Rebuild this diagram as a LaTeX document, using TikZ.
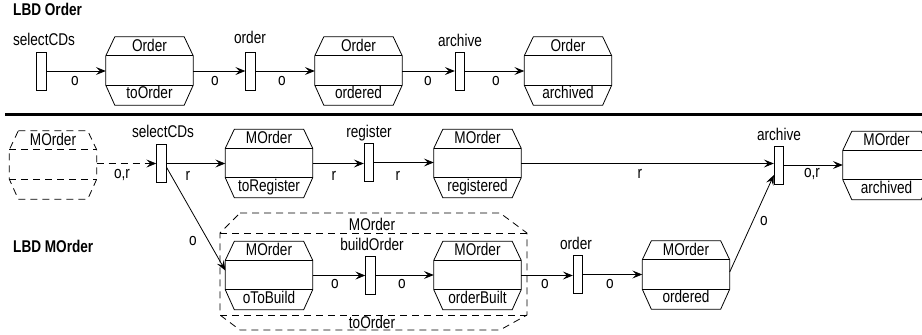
\documentclass[tikz,border=0pt]{standalone}
\usepackage{fontspec}
\setmainfont{Liberation Sans}[FakeStretch=0.8]
\usetikzlibrary{arrows.meta,calc}
\tikzset{
  sbox/.style={minimum width=87pt, minimum height=68pt, inner sep=0pt},
  barbox/.style={draw, fill=white, line width=0.8pt, minimum width=9.5pt, minimum height=38pt, inner sep=0pt},
  txt/.style={inner sep=0pt, anchor=base, font=\fontsize{17pt}{19pt}\selectfont},
  hdr/.style={inner sep=0pt, anchor=base west, font=\fontsize{17pt}{19pt}\selectfont\bfseries},
  conn/.style={line width=0.8pt, -{Stealth[length=10pt,width=8pt,inset=4pt]}},
  dsh/.style={dash pattern=on 7pt off 5pt},
}
\newcommand\mkstate[5][]{%
  \node[sbox] (#2) at (#3) {};
  \draw[line width=0.8pt,#1] ($(#2.north west)+(9pt,0)$) -- ($(#2.north east)+(-9pt,0)$) -- ($(#2.north east)+(0,-19pt)$) -- ($(#2.south east)+(0,20pt)$) -- ($(#2.south east)+(-9pt,0)$) -- ($(#2.south west)+(9pt,0)$) -- ($(#2.south west)+(0,20pt)$) -- ($(#2.north west)+(0,-19pt)$) -- cycle;
  \draw[line width=0.8pt,#1] ($(#2.north west)+(0,-19pt)$) -- ($(#2.north east)+(0,-19pt)$);
  \draw[line width=0.8pt,#1] ($(#2.south west)+(0,20pt)$) -- ($(#2.south east)+(0,20pt)$);
  \node[txt] (#2-t) at ($(#2.north)+(0,-14.5pt)$) {#4};
  \node[txt] (#2-b) at ($(#2.south)+(0,6.5pt)$) {#5};
}
\begin{document}
\begin{tikzpicture}[x=1pt,y=-1pt]
\useasboundingbox (0,0) rectangle (922,335);
% ---------------- LBD Order ----------------
\node[hdr] (h1) at (13,15) {LBD Order};
\node[barbox] (b1) at (41.5,71) {};
\node[txt] (b1l) at (44,45) {selectCDs};
\mkstate{o1}{149.5,71}{Order}{toOrder}
\node[barbox] (b2) at (250.5,71) {};
\node[txt] (b2l) at (250,43) {order};
\mkstate{o2}{358.5,71}{Order}{ordered}
\node[barbox] (b3) at (460,71) {};
\node[txt] (b3l) at (460,46) {archive};
\mkstate{o3}{568,71}{Order}{archived}
\draw[conn] (b1.east) -- (o1.west);
\draw[conn] (o1.east) -- (b2.west);
\draw[conn] (b2.east) -- (o2.west);
\draw[conn] (o2.east) -- (b3.west);
\draw[conn] (b3.east) -- (o3.west);
\node[txt] (l1) at (75,85) {o};
\node[txt] (l2) at (215,85) {o};
\node[txt] (l3) at (282,85) {o};
\node[txt] (l4) at (428,85) {o};
\node[txt] (l5) at (496,85) {o};
% separator
\draw[line width=3pt] (5,114) -- (922,114);
% ---------------- LBD MOrder ----------------
\node[hdr] (h2) at (13,252) {LBD MOrder};
% outer dashed state
\draw[line width=0.8pt,dsh] (240,213) -- (500,213) -- (527,233) -- (527,315) -- (500,330) -- (240,330) -- (220,315) -- (220,233) -- cycle;
\draw[line width=0.8pt,dsh] (220,233) -- (527,233);
\draw[line width=0.8pt,dsh] (220,315) -- (527,315);
\node[txt] (outt) at (372,230) {MOrder};
\node[txt] (outb) at (372,328) {toOrder};
% states
\mkstate[dsh]{d0}{53,165}{MOrder}{}
\node[barbox] (sb) at (161.5,163.5) {};
\node[txt] (sbl) at (163,137) {selectCDs};
\mkstate{tr}{269,163.5}{MOrder}{toRegister}
\node[barbox] (rg) at (369,162.5) {};
\node[txt] (rgl) at (369,137) {register};
\mkstate{rd}{477.5,163.5}{MOrder}{registered}
\node[barbox] (ar) at (779,165) {};
\node[txt] (arl) at (779,140) {archive};
\mkstate{ad}{886.5,165.5}{MOrder}{archived}
\mkstate{tb}{269,275.5}{MOrder}{oToBuild}
\node[barbox] (bo) at (370.5,275) {};
\node[txt] (bol) at (372,250) {buildOrder};
\mkstate{ob}{477.5,275.5}{MOrder}{orderBuilt}
\node[barbox] (or) at (578,274.5) {};
\node[txt] (orl) at (576,249) {order};
\mkstate{od}{686,275}{MOrder}{ordered}
% connectors
\draw[conn,dsh] (d0.east |- sb.west) -- (sb.west);
\draw[conn] (sb.east) -- (sb.east -| tr.west);
\draw[conn] (tr.east) -- (tr.east -| rg.west);
\draw[conn] (rg.east) -- (rg.east -| rd.west);
\draw[conn] (rd.east) -- (rd.east -| ar.west);
\draw[conn] (ar.east) -- (ar.east -| ad.west);
\draw[conn] ([yshift=-4pt]sb.east) -- ([yshift=5pt]tb.west);
\draw[conn] (tb.east) -- (tb.east -| bo.west);
\draw[conn] (bo.east) -- (bo.east -| ob.west);
\draw[conn] (ob.east) -- (ob.east -| or.west);
\draw[conn] (or.east) -- (or.east -| od.west);
\draw[conn] ([yshift=3pt]od.east) -- ([yshift=-10pt]ar.west);
% connector labels
\node[txt] (m1) at (122,178) {o,r};
\node[txt] (m2) at (188,180) {r};
\node[txt] (m3) at (334,180) {r};
\node[txt] (m4) at (398,180) {r};
\node[txt] (m5) at (640,178) {r};
\node[txt] (m6) at (812,177) {o,r};
\node[txt] (m7) at (193,245) {o};
\node[txt] (m8) at (335,288) {o};
\node[txt] (m9) at (402,288) {o};
\node[txt] (m10) at (545,288) {o};
\node[txt] (m11) at (610,288) {o};
\node[txt] (m12) at (764,225) {o};
\end{tikzpicture}
\end{document}
